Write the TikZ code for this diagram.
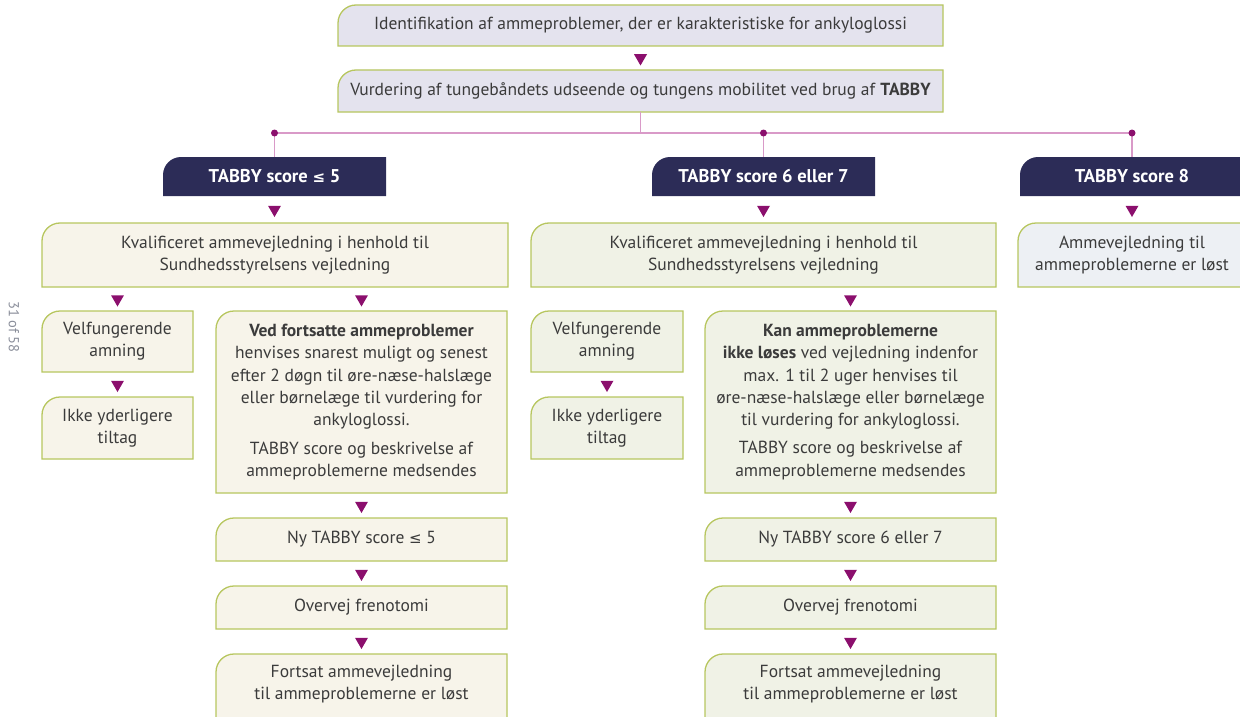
\documentclass[tikz,border=0pt]{standalone}
\usepackage{fontspec}
\setmainfont{PT Sans}
\newfontfamily\symf{DejaVu Sans}
\usetikzlibrary{shapes.geometric,calc,backgrounds}
\definecolor{lav}{HTML}{E4E3EE}
\definecolor{cream}{HTML}{F7F4EA}
\definecolor{greenish}{HTML}{F0F2E6}
\definecolor{bluish}{HTML}{EDF0F4}
\definecolor{border}{HTML}{B7C65F}
\definecolor{navy}{HTML}{2C2C57}
\definecolor{tricol}{HTML}{8B0F6D}
\definecolor{pinkc}{HTML}{D99AC8}
\definecolor{txt}{HTML}{3B3B3B}
\definecolor{sidegray}{HTML}{8A8E9A}
\newcommand\myle{{\symf\fontsize{15}{16}\selectfont ≤}}
\begin{document}
\begin{tikzpicture}[x=1pt,y=1pt,
  box/.style={anchor=north west, inner sep=0pt, outer sep=0pt, align=center, text=txt, font=\fontsize{17.5}{22.3}\selectfont},
  hdr/.style={anchor=north west, inner sep=0pt, outer sep=0pt, align=center, text=white, font=\fontsize{18.5}{20}\selectfont\bfseries},
  tri/.style={regular polygon, regular polygon sides=3, shape border rotate=180, fill=tricol, inner sep=0pt, minimum size=15pt},
  pinkline/.style={draw=pinkc, line width=1.3pt},
  dot/.style={circle, fill=tricol, inner sep=0pt, minimum size=7pt},
  link/.style={draw=none}]
\useasboundingbox (0,0) rectangle (1240,-717);
\clip (0,0) rectangle (1240,-717);

% top boxes
\node[box, minimum width=605pt, minimum height=41pt] (id) at (338,-5) {Identifikation af ammeproblemer, der er karakteristiske for ankyloglossi};
\node[box, minimum width=605pt, minimum height=42pt] (vurd) at (338,-70) {Vurdering af tungebåndets udseende og tungens mobilitet ved brug af \textbf{TABBY}};

% headers
\node[hdr, minimum width=223pt, minimum height=39pt] (h1) at (163,-157) {TABBY score \myle\ 5};
\node[hdr, minimum width=223pt, minimum height=39pt] (h2) at (652,-157) {TABBY score 6 eller 7};
\node[hdr, minimum width=224pt, minimum height=39pt] (h3) at (1020,-157) {TABBY score 8};

% second level
\node[box, minimum width=466pt, minimum height=64pt] (kvl) at (42,-223) {Kvalificeret ammevejledning i henhold til\\Sundhedsstyrelsens vejledning};
\node[box, minimum width=465pt, minimum height=64pt] (kvm) at (531,-223) {Kvalificeret ammevejledning i henhold til\\Sundhedsstyrelsens vejledning};
\node[box, minimum width=228pt, minimum height=64pt] (amr) at (1018,-223) {Ammevejledning til\\ammeproblemerne er løst};

% left column
\node[box, minimum width=151pt, minimum height=61pt] (velL) at (42,-311) {Velfungerende\\amning};
\node[box, minimum width=151pt, minimum height=62pt] (ikkL) at (42,-397) {Ikke yderligere\\tiltag};
\node[box, minimum width=291pt, minimum height=182pt] (bigL) at (216,-311) {\textbf{Ved fortsatte ammeproblemer}\\henvises snarest muligt og senest\\efter 2 døgn til øre-næse-halslæge\\eller børnelæge til vurdering for\\ankyloglossi.\\[6pt]TABBY score og beskrivelse af\\ammeproblemerne medsendes};
\node[box, minimum width=291pt, minimum height=43pt] (nyL) at (216,-518) {Ny TABBY score \myle\ 5};
\node[box, minimum width=291pt, minimum height=43pt] (ovL) at (216,-586) {Overvej frenotomi};
\node[box, minimum width=291pt, minimum height=60pt] (foL) at (216,-654) {Fortsat ammevejledning\\til ammeproblemerne er løst};

% middle column
\node[box, minimum width=152pt, minimum height=61pt] (velM) at (531,-311) {Velfungerende\\amning};
\node[box, minimum width=152pt, minimum height=62pt] (ikkM) at (531,-397) {Ikke yderligere\\tiltag};
\node[box, minimum width=291pt, minimum height=182pt] (bigM) at (705,-311) {\textbf{Kan ammeproblemerne}\\\textbf{ikke løses} ved vejledning indenfor\\max. 1 til 2 uger henvises til\\øre-næse-halslæge eller børnelæge\\til vurdering for ankyloglossi.\\[6pt]TABBY score og beskrivelse af\\ammeproblemerne medsendes};
\node[box, minimum width=291pt, minimum height=43pt] (nyM) at (705,-518) {Ny TABBY score 6 eller 7};
\node[box, minimum width=291pt, minimum height=43pt] (ovM) at (705,-586) {Overvej frenotomi};
\node[box, minimum width=291pt, minimum height=60pt] (foM) at (705,-654) {Fortsat ammevejledning\\til ammeproblemerne er løst};

% side page label
\node[rotate=-90, text=sidegray, font=\fontsize{14.5}{16}\selectfont] (pg) at (14,-327) {31 of 58};

% shapes behind nodes
\begin{pgfonlayer}{background}
\foreach \n/\c/\e in {id/lav/0, vurd/lav/0, kvl/cream/0, kvm/greenish/0, amr/bluish/0,
   velL/cream/0, ikkL/cream/0, bigL/cream/0, nyL/cream/0, ovL/cream/0, foL/cream/30,
   velM/greenish/0, ikkM/greenish/0, bigM/greenish/0, nyM/greenish/0, ovM/greenish/0, foM/greenish/30}{
  \path[fill=\c, draw=border, line width=1.3pt]
    ($(\n.south west)+(0,-\e)$) -- ([yshift=-18pt]\n.north west)
    arc[start angle=180, end angle=90, radius=18pt] -- (\n.north east)
    -- ($(\n.south east)+(0,-\e)$) -- cycle;
}
\foreach \n in {h1,h2,h3}{
  \path[fill=navy]
    (\n.south west) -- ([yshift=-18pt]\n.north west)
    arc[start angle=180, end angle=90, radius=18pt] -- (\n.north east)
    -- (\n.south east) -- cycle;
}
\end{pgfonlayer}

% pink distribution lines
\coordinate (d1) at ($(h1.north)+(0,24)$);
\coordinate (d2) at ($(h2.north)+(0,24)$);
\coordinate (d3) at ($(h3.north)+(0,24)$);
\draw[pinkline] (vurd.south) -- (vurd.south |- d1);
\draw[pinkline] (d1) -- (d3);
\draw[pinkline] (d1) -- (h1.north);
\draw[pinkline] (d2) -- (h2.north);
\draw[pinkline] (d3) -- (h3.north);
\node[dot] (p1) at (d1) {};
\node[dot] (p2) at (d2) {};
\node[dot] (p3) at (d3) {};

% triangle markers between boxes
\path[link] (id.south) -- (vurd.north) node[midway, tri] {};
\path[link] (h1.south) -- (h1.south |- kvl.north) node[midway, tri] {};
\path[link] (h2.south) -- (h2.south |- kvm.north) node[midway, tri] {};
\path[link] (h3.south) -- (h3.south |- amr.north) node[midway, tri] {};
\path[link] (velL.north |- kvl.south) -- (velL.north) node[midway, tri] {};
\path[link] (bigL.north |- kvl.south) -- (bigL.north) node[midway, tri] {};
\path[link] (velL.south) -- (ikkL.north) node[midway, tri] {};
\path[link] (bigL.south) -- (nyL.north) node[midway, tri] {};
\path[link] (nyL.south) -- (ovL.north) node[midway, tri] {};
\path[link] (ovL.south) -- (foL.north) node[midway, tri] {};
\path[link] (velM.south) -- (ikkM.north) node[midway, tri] {};
\path[link] (bigM.north |- kvm.south) -- (bigM.north) node[midway, tri] {};
\path[link] (bigM.south) -- (nyM.north) node[midway, tri] {};
\path[link] (nyM.south) -- (ovM.north) node[midway, tri] {};
\path[link] (ovM.south) -- (foM.north) node[midway, tri] {};
\end{tikzpicture}
\end{document}
